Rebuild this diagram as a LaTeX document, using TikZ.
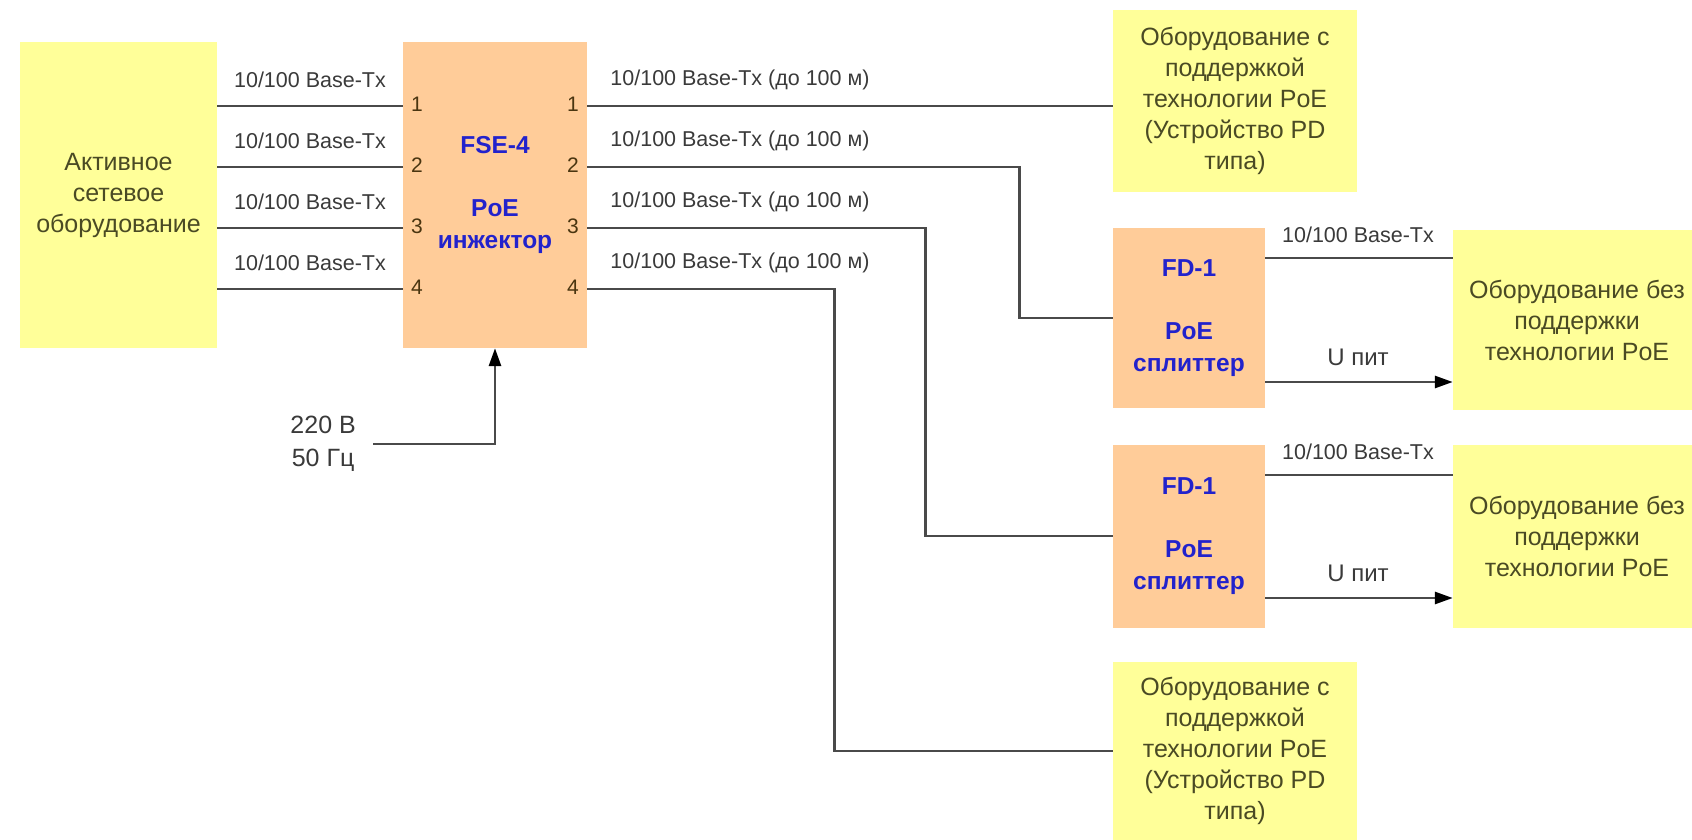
\documentclass[tikz,border=0pt]{standalone}
\usepackage{fontspec}
\setmainfont{Liberation Sans}
\usetikzlibrary{arrows.meta,calc}
\definecolor{eqyellow}{HTML}{FFFF99}
\definecolor{poeorange}{HTML}{FFCC99}
\definecolor{eqtext}{HTML}{4A4A24}
\definecolor{poeblue}{HTML}{2222CC}
\definecolor{wiregray}{HTML}{4A4A4A}
\definecolor{lblgray}{HTML}{3A3A3A}
\definecolor{porttext}{HTML}{4A3510}

\begin{document}
\begin{tikzpicture}[x=1pt,y=-1pt,
  >={Triangle[length=18pt,width=12pt,color=black]},
  eq/.style={fill=eqyellow, text=eqtext, align=center, inner sep=0pt, font=\fontsize{25}{31}\selectfont},
  poe/.style={fill=poeorange, text=poeblue, align=center, inner sep=0pt, font=\fontsize{24.5}{31.5}\selectfont\bfseries},
  wire/.style={draw=wiregray, line width=2.8pt},
  lbl/.style={text=lblgray, inner sep=0pt, font=\fontsize{21.5}{26}\selectfont},
  port/.style={text=porttext, inner sep=0pt, font=\fontsize{21}{25}\selectfont},
]
\useasboundingbox (0,0) rectangle (1692,840);
% ---------------- boxes ----------------
\node[eq, minimum width=197pt, minimum height=306pt] (act) at (118.5,195) {Активное\\сетевое\\оборудование};
\node[poe, minimum width=184pt, minimum height=306pt] (fse) at (495,195) {FSE-4\\[31.5pt]PoE\\инжектор};
\node[eq, minimum width=244pt, minimum height=182pt] (topeq) at (1235,101) {Оборудование с\\поддержкой\\технологии PoE\\(Устройство PD\\типа)};
\node[poe, minimum width=152pt, minimum height=180pt] (fd1) at (1189,318) {FD-1\\[31.5pt]PoE\\сплиттер};
\node[poe, minimum width=152pt, minimum height=183pt] (fd2) at (1189,536) {FD-1\\[31.5pt]PoE\\сплиттер};
\node[eq, minimum width=248pt, minimum height=180pt] (nopoe1) at (1577,320) {Оборудование без\\поддержки\\технологии PoE};
\node[eq, minimum width=248pt, minimum height=183pt] (nopoe2) at (1577,536) {Оборудование без\\поддержки\\технологии PoE};
\node[eq, minimum width=244pt, minimum height=178pt] (boteq) at (1235,751) {Оборудование с\\поддержкой\\технологии PoE\\(Устройство PD\\типа)};
% ---------------- injector ports ----------------
\foreach \i/\y in {1/106,2/167,3/228,4/289} {
  \draw[wire] (act.east |- 0,\y) -- (fse.west |- 0,\y);
  \node[lbl] at (310,\y-26) {10/100 Base-Tx};
  \node[lbl] at (740,\y-26) {10/100 Base-Tx (до 100 м)};
  \node[port] at (417,\y-2) {\i};
  \node[port] at (573,\y-2) {\i};
}
\draw[wire] (fse.east |- 0,106) -- (topeq.west |- 0,106);
\draw[wire] (fse.east |- 0,167) -| ($(fd1.west)-(93,0)$) -- (fd1.west);
\draw[wire] (fse.east |- 0,228) -| ($(fd2.west)-(187,0)$) -- (fd2.west);
\draw[wire] (fse.east |- 0,289) -| ($(boteq.west)-(278,0)$) -- (boteq.west);
% ---------------- splitters ----------------
\draw[wire] (fd1.east |- 0,258) -- (nopoe1.west |- 0,258);
\draw[wire,->] (fd1.east |- 0,382) -- (nopoe1.west |- 0,382);
\draw[wire] (fd2.east |- 0,475) -- (nopoe2.west |- 0,475);
\draw[wire,->] (fd2.east |- 0,598) -- (nopoe2.west |- 0,598);
\node[lbl] at (1358,235) {10/100 Base-Tx};
\node[lbl] at (1358,452) {10/100 Base-Tx};
\node[lbl, font=\fontsize{24}{30}\selectfont] at (1358,357) {U пит};
\node[lbl, font=\fontsize{24}{30}\selectfont] at (1358,573) {U пит};
% ---------------- mains ----------------
\node[lbl, align=center, anchor=east, font=\fontsize{25}{33}\selectfont] (mains) at (356,444) {220 В\\50 Гц};
\draw[wire,->] ([xshift=17pt]mains.east) -| (fse.south);
\end{tikzpicture}
\end{document}
